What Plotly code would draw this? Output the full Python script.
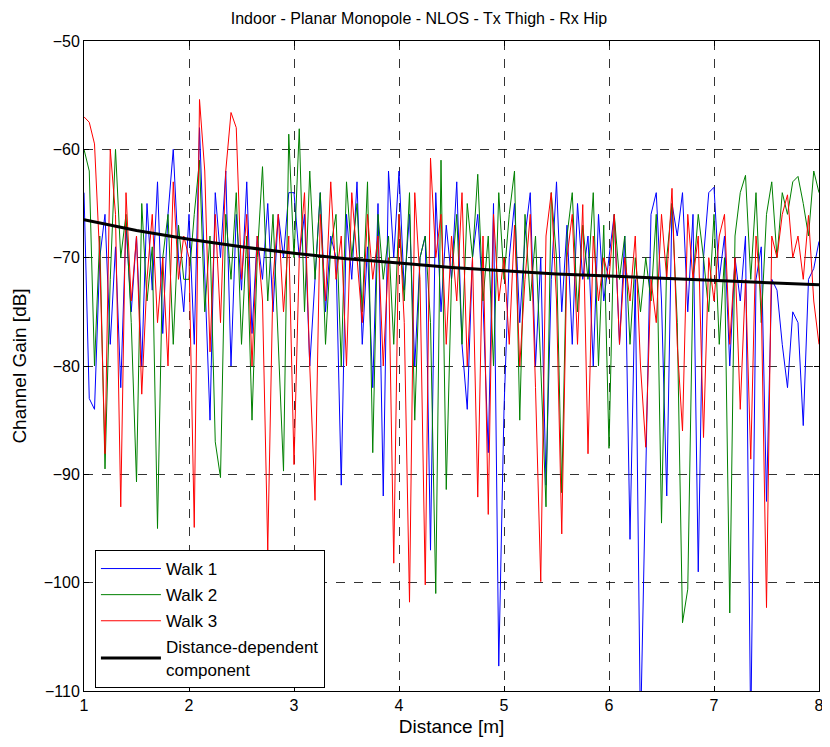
import plotly.graph_objects as go

# distance grid (m), step 0.05
distance = [round(1 + 0.05 * i, 2) for i in range(141)]

walk1 = [
    -64, -83, -84, -70, -66, -78, -69, -82, -67, -75, -68, -80, -65, -73, -63, -77, -66, -60, -70, -75,
    -66, -78, -58, -72, -85, -64, -70, -62, -80, -66, -73, -63, -77, -68, -72, -65, -75, -66, -70, -64,
    -64, -70, -66, -80, -72, -64, -75, -68, -70, -91, -66, -72, -63, -78, -69, -82, -65, -92, -62, -70,
    -62, -73, -66, -80, -70, -68, -97, -64, -75, -67, -72, -63, -78, -84, -70, -66, -74, -88, -65, -107.7,
    -84, -70, -65, -76, -68, -64, -80, -70, -91, -72, -63, -75, -67, -78, -65, -72, -68, -80, -66, -74,
    -70, -66, -78, -68, -96, -72, -114, -89, -66, -64, -74, -92, -65, -68, -64, -75, -66, -99, -70, -64,
    -63.5, -72, -68, -80, -70, -74, -68, -114, -72, -69, -92.5, -72, -73, -78, -82, -75, -76, -85.5, -72, -71,
    -68.5,
]

walk2 = [
    -60, -62, -80, -68, -89.5, -72, -60, -70, -66, -76, -90.7, -65, -74, -69, -95, -70, -66, -78, -67, -72,
    -72, -66, -61, -75, -68, -87, -90.3, -66, -72, -64, -78, -68, -85, -70, -61.6, -74, -66, -78, -89.7, -58.6,
    -70, -58.1, -75, -62, -72, -64, -78, -69, -66, -80, -63, -70, -65, -75, -63, -88, -66, -72, -68, -78,
    -66, -74, -64, -85, -70, -68, -76, -101, -61, -91.4, -72, -66, -78, -65, -70, -62.3, -74, -68, -80, -64,
    -72, -66, -62, -85, -66, -74, -68, -80, -93, -64, -70, -91.7, -68, -64, -75, -67, -72, -64, -80, -67,
    -87.6, -66, -72, -68, -78, -70, -75, -70, -74, -66, -94.5, -70, -65, -76, -103.7, -100.6, -72, -66, -70, -75,
    -66, -78, -70, -102.8, -68, -64, -62.4, -72, -64, -76, -66, -63, -70, -64, -66, -63, -62.5, -65, -68, -62,
    -64,
]

walk3 = [
    -57, -57.5, -59.5, -70, -88.1, -60, -66, -93, -64, -74, -68, -82.6, -72, -66, -76, -70, -80, -63, -72, -68,
    -70, -94.9, -55.4, -62, -78.7, -66, -76, -62, -56.6, -58, -72, -66, -80, -68, -74, -97, -72, -66, -75, -68,
    -89.1, -70, -64, -80, -92.4, -66, -74, -63, -72, -68, -80, -64, -70, -76, -66, -72, -68, -80, -70, -98.2,
    -66, -76, -101.8, -64, -72, -100.2, -60.8, -70, -66, -78, -68, -74, -64, -80, -70, -92.1, -68, -93.7, -66, -74,
    -70, -78, -67, -80, -72, -66, -82, -99.9, -68, -64, -74, -95.5, -70, -66, -78, -65.1, -88.1, -68, -74, -70,
    -72, -66, -78, -70, -74, -68, -80, -87.5, -72, -76, -66, -72, -63.6, -78, -86, -66, -72, -68, -86.6, -70,
    -74, -68, -66, -78, -70, -84, -72, -88.6, -68, -74, -102.3, -68, -70, -66, -64.2, -70, -68, -72, -66.1, -74,
    -78,
]

trend_distance = [1.0, 1.5, 2.0, 2.5, 3.0, 3.5, 4.0, 4.5, 5.0, 5.5, 6.0, 6.5, 7.0, 7.5, 8.0]
trend_gain = [-66.5, -67.5, -68.3, -69.0, -69.6, -70.1, -70.5, -70.9, -71.2, -71.5, -71.7, -71.9, -72.1, -72.3, -72.5]

x_ticks = [1, 2, 3, 4, 5, 6, 7, 8]
y_ticks = [-110, -100, -90, -80, -70, -60, -50]

FONT = "Liberation Sans, Arial, sans-serif"

fig = go.Figure()
fig.add_trace(go.Scatter(x=distance, y=walk1, mode="lines", name="Walk 1", legendgroup="a",
                         line=dict(color="#0000FF", width=1)))
fig.add_trace(go.Scatter(x=distance, y=walk2, mode="lines", name="Walk 2", legendgroup="b",
                         line=dict(color="#008000", width=1)))
fig.add_trace(go.Scatter(x=distance, y=walk3, mode="lines", name="Walk 3", legendgroup="c",
                         line=dict(color="#FF0000", width=1)))
fig.add_trace(go.Scatter(x=trend_distance, y=trend_gain, mode="lines", legendgroup="d",
                         name="Distance-dependent<br>component",
                         line=dict(color="black", width=3)))

axis_common = dict(
    showgrid=True, gridcolor="rgba(0,0,0,0.8)", griddash="dash", gridwidth=1,
    showline=True, linecolor="black", linewidth=1, mirror="ticks",
    ticks="inside", ticklen=5, tickcolor="black", zeroline=False,
    tickfont=dict(family=FONT, size=16, color="black"),
)

W, H = 822, 739
fig.update_layout(
    width=W, height=H,
    margin=dict(l=76, r=6, t=33, b=56),
    paper_bgcolor="white", plot_bgcolor="white",
    font=dict(family=FONT, size=16, color="black"),
    title=dict(text="Indoor - Planar Monopole - NLOS - Tx Thigh - Rx Hip",
               x=0.5, xanchor="center", y=1 - 10 / H, yanchor="middle",
               font=dict(size=16, color="black")),
    xaxis=dict(range=[1, 8], tickvals=x_ticks,
               title=dict(text="Distance [m]", standoff=6, font=dict(size=19)), **axis_common),
    yaxis=dict(range=[-110, -50], tickvals=y_ticks,
               title=dict(text="Channel Gain [dB]", standoff=12, font=dict(size=19)), **axis_common),
    legend=dict(x=(95 - 84) / 740, y=(691 - 550) / 650, xanchor="left", yanchor="top",
                bgcolor="white", bordercolor="black", borderwidth=1,
                font=dict(family=FONT, size=17), tracegroupgap=1, itemwidth=60,
                entrywidth=198, entrywidthmode="pixels"),
    showlegend=True,
)

fig.write_html("out.html")
